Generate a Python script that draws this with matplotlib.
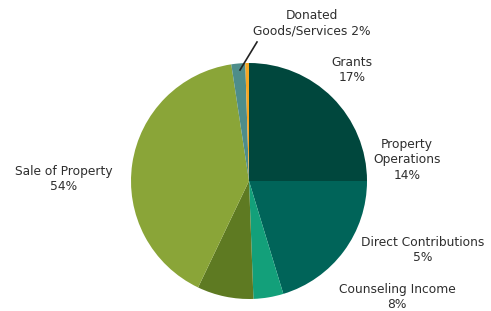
import matplotlib
matplotlib.use("Agg")
import matplotlib.pyplot as plt

# wedge sizes as drawn (clockwise from 12 o'clock), in percent of the circle
categories = ["Grants", "Property Operations", "Direct Contributions",
              "Counseling Income", "Sale of Property", "Other",
              "Donated Goods/Services"]
shares = [25.0, 20.3, 4.1, 7.7, 40.5, 1.9, 0.5]
colors = ["#00473d", "#006459", "#13a07a", "#5e7a22", "#8aa538",
          "#4e8d8a", "#f5a623"]

# printed labels (text, x px, y px from top)
label_texts = ["Donated\nGoods/Services 2%", "Grants\n17%",
               "Property\nOperations\n14%", "Sale of Property\n54%",
               "Direct Contributions\n5%", "Counseling Income\n8%"]
label_pos = [(312, 23), (352, 70), (407, 160), (64, 179), (423, 250),
             (397, 297)]

W, H = 491, 311
fig = plt.figure(figsize=(W / 100, H / 100), dpi=100)
ax = fig.add_axes([0, 0, 1, 1])

ax.pie(shares, colors=colors, startangle=90, counterclock=False,
       center=(249, H - 181), radius=118,
       wedgeprops=dict(linewidth=0))
ax.set_xlim(0, W)
ax.set_ylim(0, H)
ax.set_aspect("equal")
ax.axis("off")

for txt, (x, y) in zip(label_texts, label_pos):
    ax.text(x, H - y, txt, ha="center", va="center", fontsize=8.8,
            color="#2e2e2e", family="DejaVu Sans", linespacing=1.28)

# leader line for the donated slice
ax.plot([257, 240], [H - 42, H - 70], color="#222222", lw=1.2)

fig.savefig("out.png", dpi=100, facecolor="white")
